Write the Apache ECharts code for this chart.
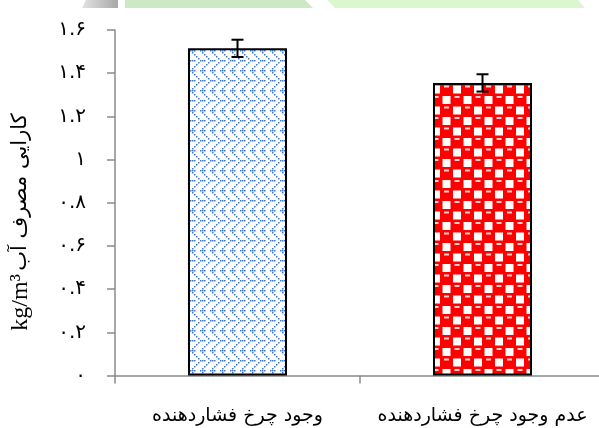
<!DOCTYPE html>
<html>
<head>
<meta charset="utf-8">
<script src="https://cdn.jsdelivr.net/npm/echarts@6/dist/echarts.min.js"></script>
<style>
  html, body { margin: 0; padding: 0; background: #ffffff; }
  #chart { width: 599px; height: 428px; }
</style>
</head>
<body>
<div id="chart"></div>
<script>
// Water use efficiency with and without the press wheel (kg/m³)
const categories = ['وجود چرخ فشاردهنده', 'عدم وجود چرخ فشاردهنده'];
const efficiency = [1.515, 1.355];
const errorMargin = [0.04, 0.04];
const yTickLabels = ['۰', '۰.۲', '۰.۴', '۰.۶', '۰.۸', '۱', '۱.۲', '۱.۴', '۱.۶'];
const yAxisUnit = 'kg/m³';
const yAxisTitle = 'کارایی مصرف آب';

// Blue dotted zig-zag fill with short horizontal steps
function weaveTile() {
  const pitch = 2, cells = 10, size = pitch * cells;
  const c = document.createElement('canvas');
  c.width = size; c.height = size;
  const g = c.getContext('2d');
  g.fillStyle = '#ffffff';
  g.fillRect(0, 0, size, size);
  g.fillStyle = '#3f78c6';
  const tri = v => Math.abs((v % cells) - cells / 2);
  const mod = (a, n) => ((a % n) + n) % n;
  for (let y = 0; y < cells; y++) {
    for (let x = 0; x < cells; x++) {
      const k = mod(x - tri(y), 5);
      const step = (y % 5 === 0) && k <= 2;
      if (k === 0 || step) {
        g.fillRect(x * pitch, y * pitch, 1.5, 1.5);
      }
    }
  }
  return c;
}

// Red sphere checker fill
function sphereTile() {
  const c = document.createElement('canvas');
  c.width = 21; c.height = 21;
  const g = c.getContext('2d');
  g.fillStyle = '#ff0000';
  g.fillRect(0, 0, 21, 21);
  g.fillStyle = '#ffffff';
  g.fillRect(12, 1.5, 8, 8);
  g.fillRect(1.5, 12, 8, 8);
  g.fillStyle = '#ffd0d0';
  g.fillRect(3, 1.5, 5, 2);
  g.fillRect(13.5, 12, 5, 2);
  return c;
}

const fills = [weaveTile(), sphereTile()];

const chart = echarts.init(document.getElementById('chart'), null, { renderer: 'canvas' });

const option = {
  animation: false,
  backgroundColor: '#ffffff',
  grid: { left: 115, top: 30, width: 490, height: 345.5, containLabel: false, outerBoundsMode: 'none' },
  graphic: [
    {
      type: 'polygon',
      shape: { points: [[86, 0], [118, 0], [118, 8], [82, 8]] },
      style: {
        fill: {
          type: 'linear', x: 0, y: 0, x2: 1, y2: 0,
          colorStops: [{ offset: 0, color: '#e2e2e2' }, { offset: 1, color: '#a8a8a8' }]
        }
      },
      silent: true
    },
    {
      type: 'polygon',
      shape: { points: [[125, 0], [305, 0], [313, 8], [125, 8]] },
      style: { fill: '#cde8c5' },
      silent: true
    },
    {
      type: 'polygon',
      shape: { points: [[327, 0], [578, 0], [585, 8], [335, 8]] },
      style: { fill: '#dbf7cf' },
      silent: true
    },
    {
      // vertical axis title: unit at the bottom, Persian words above it
      type: 'text',
      x: 21,
      y: 222,
      rotation: Math.PI / 2,
      silent: true,
      style: {
        text: '{u|' + yAxisUnit + '} {t|' + yAxisTitle + '}',
        align: 'center',
        verticalAlign: 'middle',
        rich: {
          u: { fontFamily: 'Liberation Serif', fontSize: 24, fill: '#000' },
          t: { fontFamily: 'DejaVu Sans', fontSize: 21, fill: '#000' }
        }
      }
    }
  ],
  xAxis: {
    type: 'category',
    data: categories,
    axisLine: { show: true, lineStyle: { color: '#8a8a8a', width: 1.5 } },
    axisTick: { show: true, length: 8, alignWithLabel: false, lineStyle: { color: '#8a8a8a', width: 1.5 } },
    axisLabel: {
      interval: 0,
      hideOverlap: false,
      margin: 31,
      color: '#000000',
      fontSize: 19,
      fontFamily: 'DejaVu Sans'
    },
    splitLine: { show: false }
  },
  yAxis: {
    type: 'value',
    min: 0,
    max: 1.6,
    interval: 0.2,
    axisLine: { show: true, lineStyle: { color: '#8a8a8a', width: 1.5 } },
    axisTick: { show: true, length: 8, lineStyle: { color: '#8a8a8a', width: 1.5 } },
    axisLabel: {
      margin: 29,
      color: '#000000',
      fontSize: 20,
      fontFamily: 'DejaVu Sans',
      formatter: (val) => yTickLabels[Math.round(val / 0.2)]
    },
    splitLine: { show: false }
  },
  series: [
    {
      type: 'bar',
      barWidth: 99,
      data: efficiency.map((v, i) => ({
        value: v,
        itemStyle: { color: { image: fills[i], repeat: 'repeat' } }
      })),
      itemStyle: { borderColor: '#000000', borderWidth: 2 },
      z: 2
    },
    {
      type: 'custom',
      z: 5,
      data: efficiency.map((v, i) => [i, v, errorMargin[i]]),
      renderItem: function (params, api) {
        const x = api.value(0), v = api.value(1), e = api.value(2);
        const top = api.coord([x, v + e]);
        const bot = api.coord([x, v - e]);
        const hw = 6;
        const st = { stroke: '#000000', lineWidth: 2 };
        return {
          type: 'group',
          children: [
            { type: 'line', shape: { x1: top[0], y1: top[1], x2: bot[0], y2: bot[1] }, style: st },
            { type: 'line', shape: { x1: top[0] - hw, y1: top[1], x2: top[0] + hw, y2: top[1] }, style: st },
            { type: 'line', shape: { x1: bot[0] - hw, y1: bot[1], x2: bot[0] + hw, y2: bot[1] }, style: st }
          ]
        };
      }
    }
  ]
};

chart.setOption(option);
</script>
</body>
</html>
